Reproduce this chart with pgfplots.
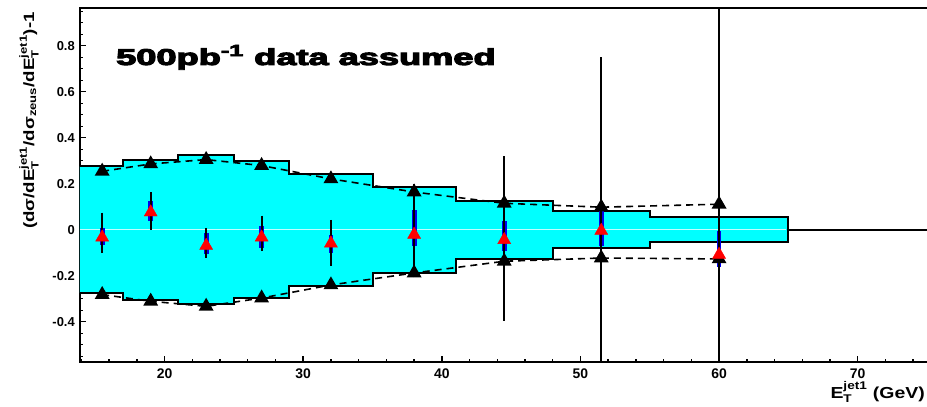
\documentclass[border=0pt]{standalone}
\usepackage{pgfplots}
\pgfplotsset{compat=1.18}
\usepackage{amsmath}
\usepackage{fontspec}
\setmainfont{Liberation Sans}
\newfontfamily\heavyfont{Liberation Sans}[UprightFont={* Bold}, FakeBold=4]
\definecolor{bandcyan}{RGB}{0,255,255}
\definecolor{zeroline}{RGB}{190,255,255}
\definecolor{rblue}{RGB}{0,0,235}
\definecolor{rred}{RGB}{255,0,0}
\begin{document}
\begin{tikzpicture}
\begin{axis}[
  at={(0,0)}, anchor=south west,
  scale only axis, width=860.9bp, height=354bp,
  xmin=13.9, xmax=76, ymin=-0.575, ymax=0.964,
  xtick={20,30,40,50,60,70},
  minor xtick={14,16,...,76},
  ytick={-0.4,-0.2,0,0.2,0.4,0.6,0.8},
  minor ytick={-0.55,-0.5,...,0.96},
  tick align=inside,
  xtick pos=bottom, ytick pos=left,
  major tick length=6bp, minor tick length=3bp,
  tick style={line width=1.4bp, black},
  axis line style={line width=2.6bp},
  /pgf/number format/assume math mode=true,
  xticklabel style={font=\bfseries\fontsize{14}{14}\selectfont, anchor=north, inner sep=0pt, yshift=-6.5bp},
  yticklabel style={font=\bfseries\fontsize{13}{13}\selectfont, anchor=east, inner sep=0pt, xshift=-5bp},
  clip=true,
]
% systematic band (step histogram)
\addplot[fill=bandcyan, draw=black, line width=2bp] coordinates {
  (13,0.275) (17,0.275) (17,0.304) (21,0.304) (21,0.325) (25,0.325)
  (25,0.297) (29,0.297) (29,0.243) (35,0.243) (35,0.187) (41,0.187)
  (41,0.126) (48,0.126) (48,0.081) (55,0.081) (55,0.055) (65,0.055)
  (65,-0.055) (55,-0.055) (55,-0.081) (48,-0.081) (48,-0.126) (41,-0.126)
  (41,-0.187) (35,-0.187) (35,-0.243) (29,-0.243) (29,-0.297) (25,-0.297)
  (25,-0.325) (21,-0.325) (21,-0.304) (17,-0.304) (17,-0.275) (13,-0.275)
} -- cycle;
\addplot[zeroline, line width=0.8bp] coordinates {(13.9,0) (64.8,0)};
\addplot[black, line width=2bp] coordinates {(65,0) (76,0)};
% upper and lower black triangles with dashed lines
\addplot[black, line width=1.6bp, dash pattern=on 7bp off 5bp, mark=triangle*, mark size=7bp, mark options={solid, fill=black}] coordinates {
  (15.5,0.254) (19,0.286) (23,0.305) (27,0.279) (32,0.221) (38,0.164) (44.5,0.115) (51.5,0.098) (60,0.111)
};
\addplot[black, line width=1.6bp, dash pattern=on 7bp off 5bp, mark=triangle*, mark size=7bp, mark options={solid, fill=black}] coordinates {
  (15.5,-0.282) (19,-0.311) (23,-0.333) (27,-0.297) (32,-0.240) (38,-0.188) (44.5,-0.137) (51.5,-0.123) (60,-0.127)
};
% blue bars
\addplot[draw=none, mark=none, error bars/.cd, y dir=both, y explicit, error mark=none,
  error bar style={line width=4.8bp, rblue}] coordinates {
  (15.5,-0.033) += (0,0.040) -= (0,0.032)
  (19,0.076) += (0,0.047) -= (0,0.036)
  (23,-0.069) += (0,0.055) -= (0,0.035)
  (27,-0.033) += (0,0.050) -= (0,0.047)
  (32,-0.059) += (0,0.037) -= (0,0.041)
  (38,-0.021) += (0,0.108) -= (0,0.051)
  (44.5,-0.044) += (0,0.080) -= (0,0.050)
  (51.5,-0.004) += (0,0.098) -= (0,0.068)
  (60,-0.108) += (0,0.101) -= (0,0.056)
};
% black error bars
\addplot[draw=none, mark=none, error bars/.cd, y dir=both, y explicit,
  error bar style={line width=2bp, black},
  error mark options={line width=2bp, mark size=2.5bp, black}] coordinates {
  (15.5,-0.033) += (0,0.096) -= (0,0.058)
  (19,0.076) += (0,0.076) -= (0,0.066)
  (23,-0.069) += (0,0.066) -= (0,0.041)
  (27,-0.033) += (0,0.083) -= (0,0.049)
  (32,-0.059) += (0,0.091) -= (0,0.086)
  (38,-0.021) += (0,0.209) -= (0,0.175)
  (44.5,-0.044) += (0,0.353) -= (0,0.340)
  (51.5,-0.004) += (0,0.743) -= (0,0.800)
  (60,-0.108) += (0,1.300) -= (0,1.300)
};
% red triangles
\addplot[only marks, mark=triangle*, mark size=7.5bp, mark options={fill=rred, draw=rred}] coordinates {
  (15.5,-0.033) (19,0.076) (23,-0.069) (27,-0.033) (32,-0.059) (38,-0.021) (44.5,-0.044) (51.5,-0.004) (60,-0.108)
};
\end{axis}
\node[anchor=base west, inner sep=0pt] at (36bp,297bp)
  {\scalebox{1.58}[1]{\fontsize{23}{23}\selectfont\heavyfont 500pb\textsuperscript{-1} data assumed}};
\node[rotate=90, anchor=east, inner sep=0pt] at (-51bp,350bp)
  {\scalebox{1.25}[1]{\fontsize{15}{15}\selectfont\bfseries (dσ/dE$_{\text{T}}^{\text{jet1}}$/dσ$_{\text{zeus}}$/dE$_{\text{T}}^{\text{jet1}}$)-1}};
\node[anchor=base east, inner sep=0pt] at (845bp,-36bp)
  {\scalebox{1.22}[1]{\fontsize{16}{16}\selectfont\bfseries E$_{\text{T}}^{\text{jet1}}$ (GeV)}};
\pgfresetboundingbox
\useasboundingbox (-80bp,-45bp) rectangle (847bp,362bp);
\end{tikzpicture}
\end{document}
